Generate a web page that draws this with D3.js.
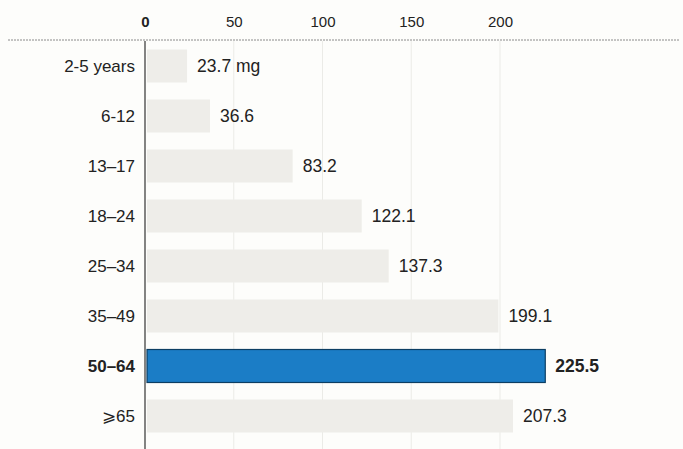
<!DOCTYPE html>
<html>
<head>
<meta charset="utf-8">
<script src="https://cdn.jsdelivr.net/npm/d3@7"></script>
<style>
  html, body { margin: 0; padding: 0; background: #fdfdfb; }
  svg { display: block; }
</style>
</head>
<body>
<svg id="chart" width="683" height="449"></svg>
<script>
// Daily intake by age group
const ageGroups = ["2-5 years", "6-12", "13\u201317", "18\u201324", "25\u201334", "35\u201349", "50\u201364", "\u2a7e65"];
const intake = [23.7, 36.6, 83.2, 122.1, 137.3, 199.1, 225.5, 207.3];
const valueLabels = ["23.7 mg", "36.6", "83.2", "122.1", "137.3", "199.1", "225.5", "207.3"];
const tickValues = [0, 50, 100, 150, 200];
const highlightGroup = "50\u201364";

const svg = d3.select("#chart");
const W = 683, H = 449;
const margin = { top: 41, left: 145, right: 0, bottom: 0 };

const x = d3.scaleLinear().domain([0, 200]).range([margin.left, margin.left + 355]);
const y = d3.scaleBand().domain(ageGroups).range([margin.top, margin.top + 400]).paddingInner(0.34).paddingOuter(0.17);

const font = "'Liberation Sans', Arial, sans-serif";

// light vertical gridlines
svg.append("g").selectAll("line")
  .data(tickValues.filter(d => d > 0))
  .join("line")
  .attr("x1", d => x(d)).attr("x2", d => x(d))
  .attr("y1", margin.top).attr("y2", H)
  .attr("stroke", "#ebebe7").attr("stroke-width", 1);

// top axis with tick labels
const axis = svg.append("g")
  .attr("transform", `translate(0,${margin.top})`)
  .call(d3.axisTop(x).tickValues(tickValues).tickSize(0).tickPadding(14));
axis.select(".domain").remove();
axis.selectAll("text")
  .attr("font-family", font).attr("font-size", 15).attr("fill", "#222")
  .attr("font-weight", d => d === 0 ? "bold" : "normal");

// dotted rule under the axis
svg.append("line")
  .attr("x1", 8).attr("x2", 680)
  .attr("y1", margin.top - 1).attr("y2", margin.top - 1)
  .attr("stroke", "#8a8a8a").attr("stroke-width", 1)
  .attr("stroke-dasharray", "2,1");

// bars
svg.append("g").selectAll("rect")
  .data(ageGroups)
  .join("rect")
  .attr("x", x(0) + 2)
  .attr("y", d => y(d))
  .attr("width", (d, i) => x(intake[i]) - x(0) - 2)
  .attr("height", y.bandwidth())
  .attr("fill", d => d === highlightGroup ? "#1b7dc6" : "#eeede9")
  .attr("stroke", d => d === highlightGroup ? "#0c3e63" : "none")
  .attr("stroke-width", 1.2);

// baseline
svg.append("line")
  .attr("x1", x(0)).attr("x2", x(0))
  .attr("y1", margin.top).attr("y2", H)
  .attr("stroke", "#333").attr("stroke-width", 1.2);

// category labels
svg.append("g").selectAll("text")
  .data(ageGroups)
  .join("text")
  .attr("x", x(0) - 10)
  .attr("y", d => y(d) + y.bandwidth() / 2)
  .attr("dy", "0.35em")
  .attr("text-anchor", "end")
  .attr("font-family", font).attr("font-size", 17)
  .attr("font-weight", d => d === highlightGroup ? "bold" : "normal")
  .attr("fill", "#222")
  .text(d => d);

// value labels
svg.append("g").selectAll("text")
  .data(ageGroups)
  .join("text")
  .attr("x", (d, i) => x(intake[i]) + 10)
  .attr("y", d => y(d) + y.bandwidth() / 2)
  .attr("dy", "0.35em")
  .attr("font-family", font).attr("font-size", 17.5)
  .attr("font-weight", d => d === highlightGroup ? "bold" : "normal")
  .attr("fill", "#222")
  .text((d, i) => valueLabels[i]);
</script>
</body>
</html>
